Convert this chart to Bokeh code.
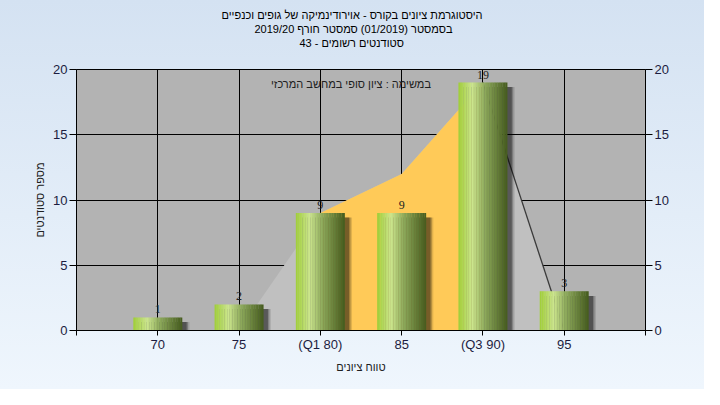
import numpy as np
from bokeh.plotting import figure
from bokeh.models import (Range1d, LinearAxis, FixedTicker, Label, LabelSet,
                          ColumnDataSource, Title)
from bokeh.embed import file_html
from bokeh.resources import INLINE

# ---- data ----
categories = ["70", "75", "(Q1 80)", "85", "(Q3 90)", "95"]
counts = [1, 2, 9, 9, 19, 3]
dist_curve = [0, 0, 9, 12, 19, 0]
q1_index = 2
q3_index = 4
title_lines = [
    "היסטוגרמת ציונים בקורס - אוירודינמיקה של גופים וכנפיים",
    "בסמסטר  (01/2019)  סמסטר חורף 2019/20",
    "סטודנטים רשומים - 43",
]
note_text = "במשימה : ציון סופי במחשב המרכזי"
x_label = "טווח ציונים"
y_label = "מספר סטודנטים"
y_ticks = [0, 5, 10, 15, 20]

FONT = "Liberation Sans"
idx = list(range(len(categories)))

p = figure(width=704, height=389, output_backend="svg", toolbar_location=None,
           x_range=Range1d(-1, len(categories)), y_range=Range1d(0, 20),
           min_border_left=76, min_border_right=59, min_border_top=69,
           min_border_bottom=59)
p.styles = {"background": "linear-gradient(to bottom, #d4e2f2, #eff6fd)"}
p.border_fill_color = None
p.background_fill_color = "#b3b3b3"
p.outline_line_color = "black"
p.outline_line_width = 1

# grid
p.xgrid.grid_line_color = "black"
p.ygrid.grid_line_color = "black"
p.xgrid.ticker = FixedTicker(ticks=idx)
p.ygrid.ticker = FixedTicker(ticks=y_ticks)

# distribution areas
gray_x = idx + [idx[-1], idx[0]]
gray_y = dist_curve + [0, 0]
p.patch(gray_x, gray_y, fill_color="#c0c0c0", line_color=None)
yx = idx[q1_index:q3_index + 1]
yy = dist_curve[q1_index:q3_index + 1]
p.patch([yx[0]] + yx + [yx[-1]], [0] + yy + [0], fill_color="#ffca58", line_color=None)
p.line(idx[q3_index:q3_index + 2], dist_curve[q3_index:q3_index + 2],
       line_color="#3a3a3a", line_width=1.3)

# bars: shadow + gradient slices
bw = 0.6
for off, alpha in [(0.09, 0.12), (0.072, 0.22), (0.055, 0.32)]:
    p.vbar(x=[i + off for i in idx], width=bw, top=[c - 0.35 for c in counts], bottom=0,
           fill_color="black", fill_alpha=alpha, line_color=None)

N = 30
stops_t = [0.0, 0.28, 0.55, 1.0]
stops_c = np.array([[160, 206, 56], [204, 230, 142], [140, 168, 90], [70, 92, 30]])
sx, stop, scol = [], [], []
for i, c in zip(idx, counts):
    for k in range(N):
        t = (k + 0.5) / N
        rgb = [int(np.interp(t, stops_t, stops_c[:, j])) for j in range(3)]
        sx.append(i - bw / 2 + (k + 0.5) * bw / N)
        stop.append(c)
        scol.append("#%02x%02x%02x" % tuple(rgb))
p.vbar(x=sx, width=bw / N * 1.15, top=stop, bottom=0, fill_color=scol, line_color=None)

# value labels
src = ColumnDataSource(dict(x=idx, y=counts, t=[str(c) for c in counts]))
p.add_layout(LabelSet(x="x", y="y", text="t", source=src, text_align="center",
                      text_baseline="bottom", y_offset=4, text_font=FONT,
                      text_font_size="12px", text_color="#222222"))

# axes
p.xaxis.ticker = FixedTicker(ticks=[-1] + idx + [len(categories)])
p.xaxis.major_label_overrides = {i: c for i, c in zip(idx, categories)} | {-1: "", len(categories): ""}
p.yaxis.ticker = FixedTicker(ticks=y_ticks)
p.add_layout(LinearAxis(ticker=FixedTicker(ticks=y_ticks)), "right")
for ax in p.axis:
    ax.axis_line_color = "black"
    ax.major_tick_line_color = "black"
    ax.minor_tick_line_color = None
    ax.major_tick_in = 0
    ax.major_tick_out = 7
    ax.major_label_text_font = FONT
    ax.major_label_text_font_size = "13px"
    ax.major_label_text_color = "#1c1c40"
    ax.major_label_standoff = 2
    ax.axis_label_text_font = FONT
    ax.axis_label_text_font_size = "11px"
    ax.axis_label_text_font_style = "normal"
    ax.axis_label_text_color = "#202020"
p.xaxis[0].major_tick_out = 5
p.xaxis[0].major_label_standoff = 1
p.xaxis[0].axis_label = x_label
p.xaxis[0].axis_label_standoff = 6
p.yaxis[0].axis_label = y_label
p.yaxis[0].axis_label_standoff = 4

# title block: a blank spacer next to the frame, then the three lines
p.add_layout(Title(text=" ", standoff=0, text_font_size="17px",
                   text_line_height=1.0), "above")
for line, off in zip(reversed(title_lines), [223, 178, 145]):
    p.add_layout(Title(text=line, align="left", offset=off, standoff=0,
                       text_font=FONT, text_font_size="11px", text_font_style="normal",
                       text_color="black", text_line_height=0.72), "above")

p.add_layout(Label(x=2.5, y=20, x_offset=-10, y_offset=-14, text=note_text,
                   text_align="center", text_baseline="middle", text_font=FONT,
                   text_font_size="11px", text_color="#202020"))

open("out.html", "w").write(file_html(p, INLINE))
